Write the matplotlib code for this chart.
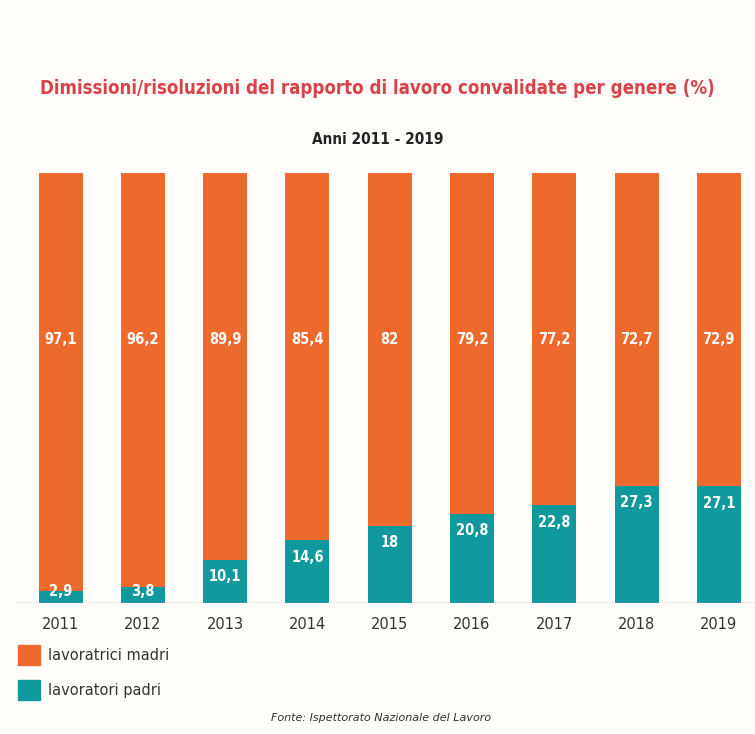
import matplotlib.pyplot as plt
from matplotlib.patches import Rectangle

# DATA
anni = ['2011', '2012', '2013', '2014', '2015', '2016', '2017', '2018', '2019']
madri = [97.1, 96.2, 89.9, 85.4, 82, 79.2, 77.2, 72.7, 72.9]
padri = [2.9, 3.8, 10.1, 14.6, 18, 20.8, 22.8, 27.3, 27.1]

arancio = '#EE6A2C'
verde = '#0F999C'
sfondo = '#FFFDFA'

fig = plt.figure(figsize=(7.55, 7.34), dpi=100, facecolor=sfondo)
ax = fig.add_axes([17 / 755, 1 - 603 / 734, 1 - 17 / 755, 430 / 734])
ax.set_facecolor(sfondo)

x = range(len(anni))
w = 0.535
ax.bar(x, [100] * len(anni), width=w, color=arancio)
ax.bar(x, padri, width=w, color=verde)

def fmt(v):
    s = ('%.1f' % v).replace('.', ',')
    return s[:-2] if s.endswith(',0') else s

for i in x:
    ax.text(i, 61.2, fmt(madri[i]), ha='center', va='center', color='white',
            fontsize=10.5, fontweight='bold', fontstretch='condensed')
    yl = max(padri[i] - 4.0, 2.6)
    ax.text(i, yl, fmt(padri[i]), ha='center', va='center', color='white',
            fontsize=10.5, fontweight='bold', fontstretch='condensed')

ax.set_xlim(-0.529, 8.44)
ax.set_ylim(0, 100)
ax.axhline(0, color='#9a9a9a', lw=1)
for s in ax.spines.values():
    s.set_visible(False)
ax.set_yticks([])
ax.set_xticks(list(x))
ax.set_xticklabels(anni, fontsize=10.5, color='#333333')
ax.tick_params(axis='x', length=0, pad=10)

titolo = fig.text(0.5, 1 - 88 / 734, 'Dimissioni/risoluzioni del rapporto di lavoro convalidate per genere (%)',
                  ha='center', va='center', color='#D8434A', fontsize=17, fontweight='bold',
                  fontstretch='condensed')
# adatta la larghezza del titolo (~675 px come nell'originale)
r = fig.canvas.get_renderer()
wt = titolo.get_window_extent(r).width
titolo.set_fontsize(17 * 675 / wt)

fig.text(0.5, 1 - 139 / 734, 'Anni 2011 - 2019', ha='center', va='center',
         color='#222222', fontsize=11, fontweight='bold', fontstretch='condensed')

# legenda
for k, (lab, col) in enumerate([('lavoratrici madri', arancio), ('lavoratori padri', verde)]):
    yc = 655 + 35 * k
    fig.patches.append(Rectangle((18 / 755, 1 - (yc + 10) / 734), 22 / 755, 20 / 734,
                                 transform=fig.transFigure, color=col))
    fig.text(48 / 755, 1 - yc / 734, lab, ha='left', va='center', fontsize=10.5, color='#333333')

fig.text(381 / 755, 1 - 718 / 734, 'Fonte: Ispettorato Nazionale del Lavoro', ha='center', va='center',
         fontsize=8, style='italic', color='#333333')

fig.savefig('out.png', dpi=100, facecolor=sfondo)
